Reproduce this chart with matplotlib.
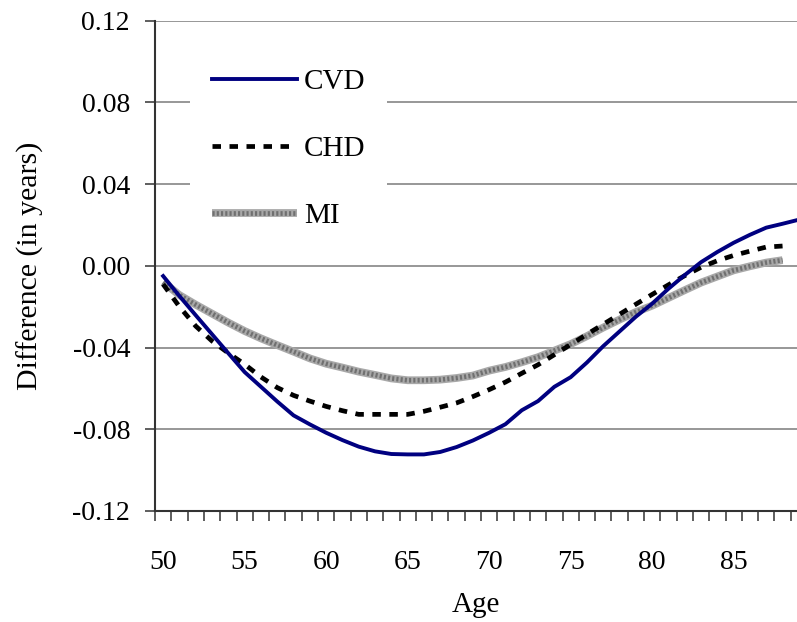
import matplotlib
matplotlib.use("Agg")
import matplotlib.pyplot as plt
import numpy as np
from matplotlib.ticker import FixedLocator, FixedFormatter

plt.rcParams['font.family'] = ['Liberation Serif', 'DejaVu Serif']

ages = list(range(50, 90))

cvd = [-0.0050, -0.0148, -0.0242, -0.0335, -0.0428, -0.0520, -0.0592, -0.0664,
       -0.0732, -0.0776, -0.0817, -0.0853, -0.0885, -0.0908, -0.0921, -0.0923,
       -0.0923, -0.0911, -0.0887, -0.0855, -0.0817, -0.0775, -0.0707, -0.0662,
       -0.0592, -0.0545, -0.0473, -0.0393, -0.0321, -0.0249, -0.0185, -0.0112,
       -0.0045, 0.0018, 0.0068, 0.0113, 0.0152, 0.0187, 0.0206, 0.0226]

chd = [-0.0090, -0.0200, -0.0295, -0.0368, -0.0427, -0.0482, -0.0544, -0.0596,
       -0.0634, -0.0662, -0.0688, -0.0709, -0.0727, -0.0727, -0.0727, -0.0727,
       -0.0712, -0.0692, -0.0671, -0.0640, -0.0606, -0.0569, -0.0526, -0.0484,
       -0.0435, -0.0385, -0.0335, -0.0286, -0.0237, -0.0188, -0.0140, -0.0093,
       -0.0048, -0.0007, 0.0025, 0.0051, 0.0072, 0.0092, 0.0097]

mi = [-0.0080, -0.0143, -0.0190, -0.0234, -0.0278, -0.0319, -0.0355, -0.0388,
      -0.0420, -0.0453, -0.0479, -0.0498, -0.0518, -0.0534, -0.0551, -0.0560,
      -0.0560, -0.0557, -0.0549, -0.0537, -0.0513, -0.0495, -0.0472, -0.0447,
      -0.0415, -0.0383, -0.0344, -0.0302, -0.0263, -0.0226, -0.0195, -0.0157,
      -0.0119, -0.0082, -0.0052, -0.0022, -0.0002, 0.0016, 0.0028]

series_names = ["CVD", "CHD", "MI"]
y_ticks = [-0.12, -0.08, -0.04, 0.00, 0.04, 0.08, 0.12]
y_tick_labels = ["-0.12", "-0.08", "-0.04", "0.00", "0.04", "0.08", "0.12"]
x_ticks = [50, 55, 60, 65, 70, 75, 80, 85]
x_label = "Age"
y_label = "Difference (in years)"

fig = plt.figure(figsize=(7.97, 6.22), dpi=100)
ax = fig.add_axes([155 / 797, 111 / 622, 642 / 797, 490.3 / 622])

# category-style x axis: each age sits in the middle of a one-year slot
ax.set_xlim(49.5, 49.5 + 642 / 16.3)
ax.set_ylim(-0.12, 0.12)

for y in y_ticks[1:]:
    ax.axhline(y, color='#7a7a7a', lw=1.1, zorder=1)

x_cvd = ages[:len(cvd)]
x_chd = ages[:len(chd)]
x_mi = ages[:len(mi)]

# MI: thick grey band with a fine stipple texture
mi_base, = ax.plot(x_mi, mi, color='#a8a8a8', lw=5.6, solid_capstyle='butt', zorder=3)
mi_tex, = ax.plot(x_mi, mi, color='#707070', lw=3.4, linestyle=(0, (0.45, 0.45)),
                  dash_capstyle='butt', zorder=4)
chd_line, = ax.plot(x_chd, chd, color='black', lw=3.4, linestyle=(0, (1.8, 1.8)),
                    dash_capstyle='butt', zorder=5)
cvd_line, = ax.plot(x_cvd, cvd, color='#000080', lw=2.8, zorder=6,
                    solid_joinstyle='round')

# axes styling
for s in ['top', 'right']:
    ax.spines[s].set_visible(False)
for s in ['left', 'bottom']:
    ax.spines[s].set_color('#333333')
    ax.spines[s].set_linewidth(1.5)
    ax.spines[s].set_zorder(7)

ax.yaxis.set_major_locator(FixedLocator(y_ticks))
ax.yaxis.set_major_formatter(FixedFormatter(y_tick_labels))
ax.tick_params(axis='y', direction='out', length=7, width=1.1, color='#333333',
               labelsize=20, pad=11)

ax.xaxis.set_major_locator(FixedLocator(x_ticks))
ax.xaxis.set_major_formatter(FixedFormatter([str(v) for v in x_ticks]))
ax.xaxis.set_minor_locator(FixedLocator(np.arange(49.5, 90, 1.0)))
ax.tick_params(axis='x', which='major', length=0, labelsize=20, pad=28)
ax.tick_params(axis='x', which='minor', direction='out', length=7.5, width=1.1,
               color='#333333')

ax.set_xlabel(x_label, fontsize=21, labelpad=12)
ax.set_ylabel(y_label, fontsize=21.5, labelpad=20)

leg = ax.legend([cvd_line, chd_line, (mi_base, mi_tex)], series_names,
                loc='upper left', bbox_to_anchor=(0.055, 0.947),
                frameon=True, fancybox=False, fontsize=21,
                handlelength=2.9, handletextpad=0.25, labelspacing=1.4,
                borderpad=0.75, borderaxespad=0)
leg.get_frame().set_edgecolor('none')
leg.get_frame().set_facecolor('white')
leg.get_frame().set_alpha(1.0)
leg.set_zorder(8)

fig.savefig("out.png", dpi=100)
